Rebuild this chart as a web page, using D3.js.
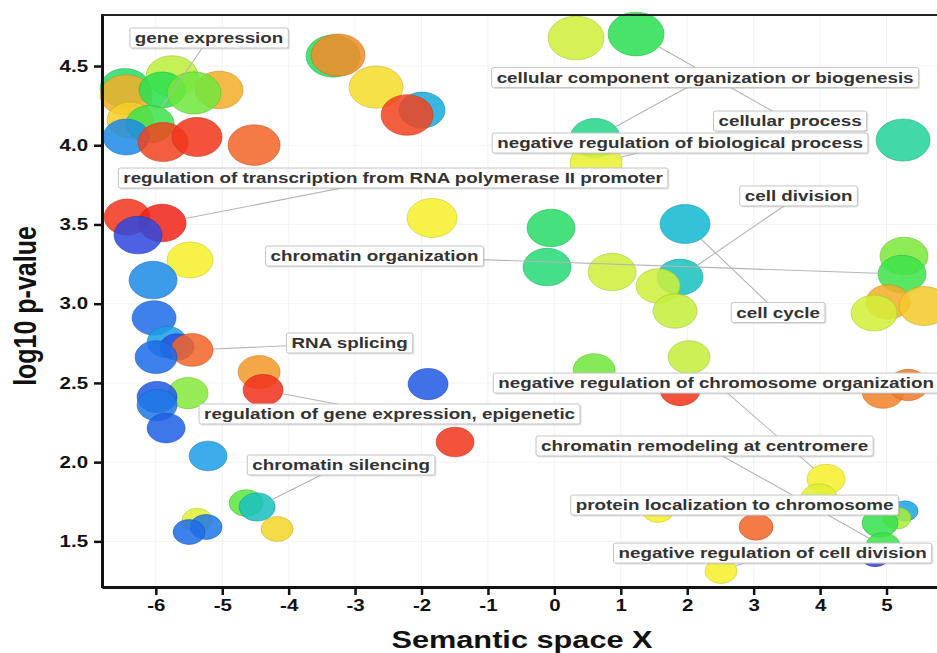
<!DOCTYPE html>
<html>
<head>
<meta charset="utf-8">
<script src="https://cdn.jsdelivr.net/npm/d3@7"></script>
<style>
  html, body { margin: 0; padding: 0; background: #fff; overflow: hidden; }
  svg { display: block; font-family: "Liberation Sans", Arial, sans-serif; }
</style>
</head>
<body>
<svg id="chart" width="937" height="653"></svg>
<script>
// GO terms in semantic space (REVIGO-style scatter)
const semX = [
  -6.462, -6.447, -5.755, -5.906, -5.047, -5.424, -6.387, -6.086, -6.447, -5.890, -5.379, -4.521,
  -3.331, -3.256, -2.684, -1.992, -2.217, -1.841,
  0.327, 1.230, 0.613, 0.628, 5.249,
  -0.050, -0.110, 0.869, 1.967, 1.892, 1.561, 1.817, 2.028, 0.598, 1.892,
  5.264, 5.234, 5.023, 5.565, 4.813, 4.948, 5.324,
  4.090, 3.985, 1.561, 3.036, 5.279, 5.159, 4.903, 4.948, 4.828, 2.509,
  -5.514, -5.981, -5.981, -5.845, -5.213, -4.641, -4.475, -4.174, -5.379, -5.243, -5.499,
  -4.445, -4.385, -1.901, -1.495,
  -6.432, -5.906, -6.267, -5.484, -6.041, -6.026, -5.830, -5.680, -5.454, -5.996
];
const log10p = [
  4.361, 4.317, 4.437, 4.349, 4.349, 4.330, 4.159, 4.134, 4.052, 4.020, 4.052, 4.001,
  4.563, 4.569, 4.367, 4.222, 4.191, 3.541,
  4.677, 4.702, 4.046, 3.888, 4.033,
  3.478, 3.231, 3.200, 3.503, 3.168, 3.112, 2.954, 2.663, 2.581, 2.455,
  3.301, 3.187, 3.011, 2.985, 2.941, 2.443, 2.487,
  1.893, 1.774, 1.698, 1.591, 1.692, 1.647, 1.616, 1.471, 1.414, 1.313,
  2.436, 2.411, 2.360, 2.215, 2.039, 1.742, 1.717, 1.578, 1.635, 1.591, 1.559,
  2.569, 2.455, 2.493, 2.127,
  3.547, 3.509, 3.433, 3.276, 3.149, 2.910, 2.758, 2.727, 2.708, 2.663
];
// log size of each term
const logSize = [
  3.47, 3.76, 3.76, 2.94, 3.20, 4.05, 2.94, 3.20, 2.94, 3.47, 3.47, 3.76,
  4.05, 4.05, 4.05, 2.94, 3.76, 3.47,
  4.36, 4.36, 3.47, 3.76, 4.05,
  3.20, 3.20, 3.20, 3.47, 2.94, 2.69, 2.69, 2.45, 2.45, 2.22,
  3.20, 3.20, 2.69, 3.47, 2.94, 2.45, 2.22,
  2.00, 1.80, 1.42, 1.61, 0.94, 1.09, 1.80, 1.61, 1.25, 1.42,
  2.22, 2.22, 2.22, 2.00, 2.00, 1.61, 1.80, 1.42, 1.25, 1.42, 1.42,
  2.45, 2.22, 2.22, 2.00,
  2.94, 3.20, 3.20, 2.94, 3.20, 2.69, 2.22, 1.61, 2.45, 2.45
];
// colour value (0 = blue ... 1 = red)
const colorValue = [
  0.42, 0.80, 0.60, 0.45, 0.80, 0.52, 0.75, 0.47, 0.15, 0.95, 0.97, 0.90,
  0.43, 0.85, 0.73, 0.22, 0.95, 0.70,
  0.62, 0.45, 0.38, 0.67, 0.36,
  0.42, 0.40, 0.62, 0.27, 0.30, 0.62, 0.61, 0.61, 0.52, 0.97,
  0.53, 0.47, 0.80, 0.76, 0.63, 0.86, 0.87,
  0.70, 0.66, 0.70, 0.90, 0.20, 0.58, 0.46, 0.47, 0.00, 0.70,
  0.54, 0.07, 0.12, 0.08, 0.18, 0.50, 0.30, 0.74, 0.66, 0.12, 0.10,
  0.83, 0.98, 0.07, 0.97,
  0.97, 1.00, 0.03, 0.70, 0.15, 0.10, 0.18, 0.05, 0.90, 0.10
];

// labelled terms
const labelText = [
  "gene expression",
  "cellular component organization or biogenesis",
  "cellular process",
  "negative regulation of biological process",
  "regulation of transcription from RNA polymerase II promoter",
  "chromatin organization",
  "cell division",
  "cell cycle",
  "RNA splicing",
  "regulation of gene expression, epigenetic",
  "chromatin silencing",
  "negative regulation of chromosome organization",
  "chromatin remodeling at centromere",
  "protein localization to chromosome",
  "negative regulation of cell division"
];
const labelX = [-5.198, 2.269, 3.548, 1.892, -2.428, -2.707, 3.676, 3.368, -3.083, -2.481, -3.211, 2.435, 2.261, 2.713, 3.285];
const labelY = [4.677, 4.427, 4.153, 4.014, 3.793, 3.301, 3.680, 2.944, 2.752, 2.304, 1.982, 2.499, 2.102, 1.729, 1.426];
const labelTerm = [7, 20, 19, 21, 66, 34, 27, 26, 73, 62, 56, 40, 47, 41, 49];

const xTicks = [-6, -5, -4, -3, -2, -1, 0, 1, 2, 3, 4, 5];
const yTicks = [1.5, 2.0, 2.5, 3.0, 3.5, 4.0, 4.5];

const svg = d3.select("#chart");
const plotL = 102, plotR = 937, plotT = 15, plotB = 587;
const stretch = 1.28;

const x = d3.scaleLinear().domain([-6.81, 5.76]).range([plotL, plotR]);
const y = d3.scaleLinear().domain([1.212, 4.822]).range([plotB, plotT]);
const r = d3.scaleSqrt().domain([0, 5]).range([0, 30]);
const color = d3.scaleLinear()
  .domain([0, 0.08, 0.18, 0.27, 0.35, 0.45, 0.53, 0.62, 0.70, 0.76, 0.82, 0.90, 1.0])
  .range(["#3a3ad8", "#1f5fe6", "#1d9ee8", "#12b8d0", "#22d0a0", "#2ae050", "#7ae83a",
          "#cdf03a", "#f5f02a", "#f5c82a", "#f2a028", "#f26428", "#f02418"])
  .interpolate(d3.interpolateRgb);

const terms = semX.map((d, i) => ({ x: d, y: log10p[i], s: logSize[i], c: colorValue[i] }));

// faint grid
const grid = svg.append("g");
grid.selectAll("line.gx").data(xTicks).join("line").attr("class", "gx")
  .attr("x1", d => x(d)).attr("x2", d => x(d)).attr("y1", plotT).attr("y2", plotB)
  .attr("stroke", "#f3f3f3").attr("stroke-width", 1);
grid.selectAll("line.gy").data(yTicks).join("line").attr("class", "gy")
  .attr("x1", plotL).attr("x2", plotR).attr("y1", d => y(d)).attr("y2", d => y(d))
  .attr("stroke", "#f3f3f3").attr("stroke-width", 1);

// bubbles
svg.append("g").selectAll("ellipse").data(terms).join("ellipse")
  .attr("cx", d => x(d.x))
  .attr("cy", d => y(d.y))
  .attr("rx", d => r(d.s))
  .attr("ry", d => r(d.s) / stretch)
  .attr("fill", d => color(d.c))
  .attr("fill-opacity", 0.86)
  .attr("stroke", d => d3.color(color(d.c)).darker(0.6))
  .attr("stroke-opacity", 0.55)
  .attr("stroke-width", 1);

// leader lines from label to its term, ending at the bubble edge
const labels = labelText.map((t, i) => ({ t, x: labelX[i], y: labelY[i], term: terms[labelTerm[i]] }));
function edgePoint(d) {
  const cx = x(d.term.x), cy = y(d.term.y), dx = x(d.x) - cx, dy = y(d.y) - cy;
  const rx = r(d.term.s), ry = rx / stretch;
  const k = Math.min(1, 1 / Math.sqrt((dx / rx) ** 2 + (dy / ry) ** 2));
  return [cx + dx * k, cy + dy * k];
}
svg.append("g").selectAll("line").data(labels).join("line")
  .attr("x1", d => x(d.x)).attr("y1", d => y(d.y))
  .attr("x2", d => edgePoint(d)[0])
  .attr("y2", d => edgePoint(d)[1])
  .attr("stroke", "#b4b4b4").attr("stroke-width", 1.1);

// label boxes
const lab = svg.append("g").selectAll("g").data(labels).join("g")
  .attr("transform", d => `translate(${x(d.x)},${y(d.y)})`);
const shadow = lab.append("rect");
const box = lab.append("rect");
const txt = lab.append("text")
  .attr("transform", `scale(${stretch},1)`)
  .attr("text-anchor", "middle")
  .attr("dy", "0.36em")
  .attr("font-size", 14.7)
  .attr("font-weight", "bold")
  .attr("fill", "#333")
  .text(d => d.t);
txt.each(function (d) { d.w = this.getComputedTextLength() * stretch + 10; });
shadow.attr("x", d => -d.w / 2 + 1.5).attr("y", -10 + 1.5).attr("width", d => d.w).attr("height", 20)
  .attr("rx", 2).attr("fill", "#888").attr("opacity", 0.25);
box.attr("x", d => -d.w / 2).attr("y", -10).attr("width", d => d.w).attr("height", 20)
  .attr("rx", 2).attr("fill", "#fff").attr("stroke", "#c4c4c4").attr("stroke-width", 1);

// frame
svg.append("rect").attr("x", plotL).attr("y", plotT).attr("width", plotR - plotL + 10).attr("height", plotB - plotT)
  .attr("fill", "none").attr("stroke", "#222").attr("stroke-width", 2);

// axes
const xAxis = svg.append("g").attr("transform", `translate(0,${plotB})`)
  .call(d3.axisBottom(x).tickValues(xTicks).tickFormat(d => String(d)).tickSize(8).tickSizeOuter(0).tickPadding(5));
const yAxis = svg.append("g").attr("transform", `translate(${plotL},0)`)
  .call(d3.axisLeft(y).tickValues(yTicks).tickFormat(d3.format(".1f")).tickSize(8).tickSizeOuter(0).tickPadding(3));
[xAxis, yAxis].forEach(a => {
  a.select(".domain").attr("stroke", "#111").attr("stroke-width", 3);
  a.selectAll(".tick line").attr("stroke", "#111").attr("stroke-width", 2.5);
  a.selectAll(".tick text").attr("font-size", 16).attr("font-weight", "bold").attr("fill", "#111")
    .attr("font-family", "Liberation Sans, Arial, sans-serif")
    .attr("transform", `scale(${stretch},1)`);
});
yAxis.selectAll(".tick text").attr("x", -14 / stretch);

// axis titles
svg.append("text")
  .attr("transform", `translate(522,648) scale(${stretch},1)`)
  .attr("text-anchor", "middle")
  .attr("font-size", 24).attr("font-weight", "bold").attr("fill", "#111")
  .text("Semantic space X");
svg.append("text")
  .attr("transform", `translate(36,306) scale(${stretch},1) rotate(-90)`)
  .attr("text-anchor", "middle")
  .attr("font-size", 25).attr("font-weight", "bold").attr("fill", "#111")
  .text("log10 p-value");
</script>
</body>
</html>
